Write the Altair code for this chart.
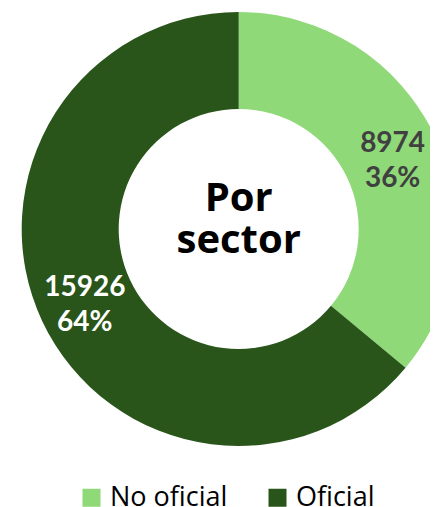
import altair as alt
import pandas as pd

categories = ["No oficial", "Oficial"]
values = [8974, 15926]
percent_labels = ["36%", "64%"]
colors = ["#8fd978", "#29551a"]
label_colors = ["#404040", "#ffffff"]
center_text = ["Por\nsector"]

df = pd.DataFrame({
    "sector": categories,
    "valor": values,
    "pct": percent_labels,
    "orden": [0, 1],
    "tc": label_colors,
})
df["label"] = df["valor"].astype(str) + "\n" + df["pct"]

cx, cy = 230.7, 221

base = alt.Chart(df).encode(
    theta=alt.Theta("valor:Q", stack=True),
    order=alt.Order("orden:Q"),
)

arc = base.mark_arc(outerRadius=217, innerRadius=120).encode(
    x=alt.value(cx),
    y=alt.value(cy),
    color=alt.Color(
        "sector:N",
        scale=alt.Scale(domain=categories, range=colors),
        legend=alt.Legend(
            orient="none", legendX=70, legendY=476, direction="horizontal",
            title=None, symbolType="square", symbolSize=324,
            labelFontSize=27, labelFont="Open Sans", labelColor="black",
            columnPadding=36, labelOffset=5, symbolStrokeWidth=0,
        ),
    ),
)

labels = base.mark_text(
    radius=170, lineBreak="\n", font="Lato", fontSize=28, fontWeight="bold",
    lineHeight=35, align="center", baseline="middle", dy=-13,
).encode(
    x=alt.value(cx),
    y=alt.value(cy),
    text="label:N",
    color=alt.Color("tc:N", scale=None),
)

center = alt.Chart(pd.DataFrame({"t": center_text})).mark_text(
    lineBreak="\n", font="Open Sans", fontSize=40, fontWeight="bold",
    lineHeight=42, align="center", baseline="middle", color="black", dy=-30,
).encode(x=alt.value(cx), y=alt.value(cy), text="t:N")

chart = alt.layer(arc, labels, center).properties(
    width=422, height=499, padding=0,
    autosize=alt.AutoSizeParams(type="none"),
).configure_view(stroke=None)

chart.save("out.html", embed_options={"renderer": "svg", "actions": False})
